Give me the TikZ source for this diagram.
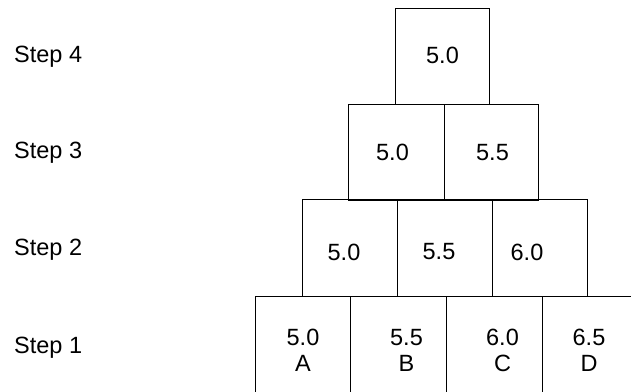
\documentclass[tikz,border=0pt]{standalone}
\usepackage{fontspec}
\setmainfont{Liberation Sans}
\begin{document}
\begin{tikzpicture}[x=1pt,y=-1pt,
  cell/.style={draw=black,line width=1pt,rectangle,inner sep=0pt,
    minimum width=95pt,minimum height=96pt,anchor=north west},
  val/.style={inner sep=0pt,align=center,font=\fontsize{23.5}{25.5}\selectfont},
  steplabel/.style={anchor=west,inner sep=0pt,font=\fontsize{23.5}{25}\selectfont}]
\useasboundingbox (0,0) rectangle (631,391);
\clip (0,0) rectangle (631,391);
% labels
\node[steplabel] (l4) at (14,57) {Step 4};
\node[steplabel] (l3) at (14,153) {Step 3};
\node[steplabel] (l2) at (14,250) {Step 2};
\node[steplabel] (l1) at (14,348) {Step 1};
% row 4
\node[cell,minimum width=94pt] (b41) at (395,8) {};
% row 3
\node[cell,minimum width=96pt] (b31) at (348,104) {};
\node[cell,minimum width=94pt] (b32) at (444,104) {};
% row 2
\node[cell,minimum width=95pt,minimum height=97pt] (b21) at (302,199) {};
\node[cell,minimum width=95pt,minimum height=97pt] (b22) at (397,199) {};
\node[cell,minimum width=95pt,minimum height=97pt] (b23) at (492,199) {};
% row 1
\node[cell,minimum height=100pt] (b11) at (255,296) {};
\node[cell,minimum width=96pt,minimum height=100pt] (b12) at (350,296) {};
\node[cell,minimum width=96pt,minimum height=100pt] (b13) at (446,296) {};
\node[cell,minimum height=100pt] (b14) at (542,296) {};
% values
\node[val] (t41) at ([shift={(0,-1)}]b41.center) {5.0};
\node[val] (t31) at ([shift={(-4,0)}]b31.center) {5.0};
\node[val] (t32) at ([shift={(1,0)}]b32.center) {5.5};
\node[val] (t21) at ([shift={(-6,4)}]b21.center) {5.0};
\node[val] (t22) at ([shift={(-6,4)}]b22.center) {5.5};
\node[val] (t23) at ([shift={(-13,4)}]b23.center) {6.0};
\node[val] (t11) at ([shift={(0,4)}]b11.center) {5.0\\A};
\node[val] (t12) at ([shift={(8,4)}]b12.center) {5.5\\B};
\node[val] (t13) at ([shift={(8,4)}]b13.center) {6.0\\C};
\node[val] (t14) at ([shift={(-1,4)}]b14.center) {6.5\\D};
\end{tikzpicture}
\end{document}
